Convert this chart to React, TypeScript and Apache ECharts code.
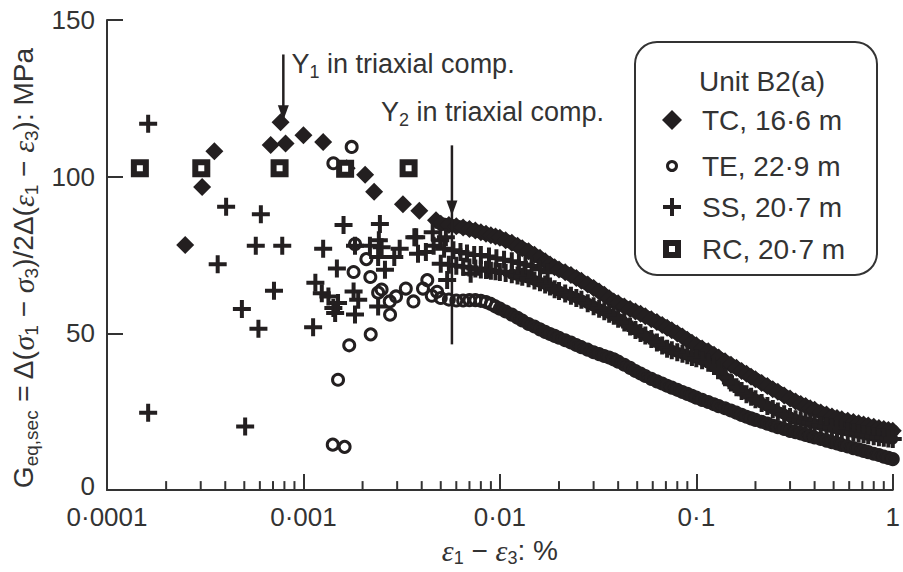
import React, { useEffect, useRef } from "react";
import * as echarts from "echarts";

// ---------- data ----------
const xTickLabels = ["0·0001", "0·001", "0·01", "0·1", "1"];
const minorTickStrains = [
  2e-4, 3e-4, 4e-4, 5e-4, 6e-4, 7e-4, 8e-4, 9e-4,
  2e-3, 3e-3, 4e-3, 5e-3, 6e-3, 7e-3, 8e-3, 9e-3,
  0.02, 0.03, 0.04, 0.05, 0.06, 0.07, 0.08, 0.09,
  0.2, 0.3, 0.4, 0.5, 0.6, 0.7, 0.8, 0.9,
];

const legendTitle = "Unit B2(a)";
const legendNames = ["TC, 16·6 m", "TE, 22·9 m", "SS, 20·7 m", "RC, 20·7 m"];

// sparse (small-strain) points
const tcSparse: number[][] = [
  [0.00025, 78.2], [0.000305, 96.7], [0.000352, 108.1], [0.000681, 110.1],
  [0.000765, 117.4], [0.000811, 110.6], [0.001, 113.2], [0.00126, 111.1],
  [0.00166, 102.7], [0.00206, 100.6], [0.00229, 95.2], [0.00321, 91.2],
  [0.00389, 89.1], [0.00473, 86.1],
];
const teSparse: number[][] = [
  [0.00142, 104.3], [0.00176, 109.5], [0.00183, 78.5], [0.0018, 69.6],
  [0.0022, 49.7], [0.00171, 46.2], [0.0015, 35.2], [0.00141, 14.5],
  [0.00162, 13.8], [0.00275, 60.2], [0.0025, 64], [0.00209, 73.7],
  [0.00219, 68], [0.0024, 63], [0.00276, 56], [0.00296, 61.8],
  [0.00332, 64.3], [0.00363, 60.2], [0.00406, 64.3], [0.00427, 67],
  [0.00479, 63.3], [0.0045, 62],
];
const ssSparse: number[][] = [
  [0.000162, 116.9], [0.000404, 90.4], [0.000607, 88], [0.000572, 78],
  [0.00078, 78], [0.00126, 77], [0.000366, 72.1], [0.000708, 63.6],
  [0.000486, 57.8], [0.00059, 51.5], [0.00115, 66.2], [0.00112, 52],
  [0.00148, 70.7], [0.000162, 24.7], [0.000505, 20.3], [0.00142, 58.1],
  [0.00124, 62.8], [0.0018, 63.4], [0.0019, 60.7], [0.0024, 58.6],
  [0.0016, 84.6], [0.00245, 84.9], [0.00183, 78], [0.00218, 78],
  [0.0025, 77.5], [0.00309, 77], [0.00375, 80.7], [0.00455, 82.3],
  [0.00531, 80.7], [0.00242, 79.7], [0.00367, 80.7], [0.00383, 75.4],
  [0.00497, 79.7], [0.00539, 67], [0.0029, 74.4], [0.0071, 69],
  [0.0086, 70.3], [0.0026, 70.3], [0.0024, 74.4], [0.00145, 56.5],
  [0.00183, 56], [0.0015, 59.7], [0.00134, 61.8],
  // upper loop of the SS trace just after yield
  [0.0042, 76], [0.0046, 78], [0.0052, 77], [0.0058, 76.5], [0.0063, 76],
  [0.0068, 75.5], [0.0074, 75], [0.008, 75], [0.0088, 74.5], [0.0096, 74],
  [0.0105, 73.5], [0.0115, 73], [0.0125, 72.5], [0.0135, 72], [0.0145, 71.5],
  [0.016, 70.5], [0.0175, 69.5],
];
const rcStrain = [0.000147, 0.000302, 0.000756, 0.00163, 0.00343];
const rcG = [102.7, 102.7, 102.7, 102.5, 102.7];

// dense (large-strain) bands
const bandStrain = [
  0.005, 0.0055, 0.006, 0.0065, 0.007, 0.0075, 0.008, 0.0085, 0.009, 0.0095,
  0.01, 0.0107, 0.0115, 0.0123, 0.013, 0.014, 0.015, 0.016, 0.017, 0.018,
  0.019, 0.02, 0.0215, 0.023, 0.0245, 0.026, 0.028, 0.03, 0.032, 0.034,
  0.036, 0.038, 0.04, 0.043, 0.046, 0.049, 0.052, 0.055, 0.059, 0.063,
  0.067, 0.071, 0.075, 0.08, 0.085, 0.09, 0.095, 0.1, 0.107, 0.115,
  0.123, 0.13, 0.14, 0.15, 0.16, 0.17, 0.18, 0.19, 0.2, 0.215,
  0.23, 0.245, 0.26, 0.28, 0.3, 0.32, 0.34, 0.36, 0.38, 0.4,
  0.43, 0.46, 0.49, 0.52, 0.55, 0.59, 0.63, 0.67, 0.71, 0.75,
  0.8, 0.85, 0.9, 0.95, 1.0,
];
const tcBandG = [
  85, 84.6, 84.2, 83.8, 83.3, 82.8, 82.3, 81.8, 81.3, 80.9,
  80.5, 79.7, 78.9, 78, 77.2, 76.2, 75.1, 74.1, 73, 72,
  71.1, 70.4, 69.5, 68.6, 67.7, 66.8, 65.6, 64.5, 63.4, 62.3,
  61.2, 60.2, 59.6, 58.6, 57.8, 57, 56.3, 55.5, 54.5, 53.6,
  52.7, 51.8, 51, 50, 49, 48, 47, 46.2, 45.2, 44.3,
  43.2, 42.3, 41.1, 40, 39, 38, 37.1, 36.2, 35.4, 34.2,
  33.2, 32.2, 31.4, 30.2, 29.2, 28.3, 27.5, 26.8, 26.1, 25.6,
  24.8, 24.1, 23.5, 23, 22.6, 22.1, 21.7, 21.3, 20.9, 20.6,
  20.2, 19.8, 19.5, 19.2, 18.9,
];
const ssBandG = [
  72.2, 71.9, 71.6, 71.3, 71, 70.7, 70.4, 70.2, 70, 69.8,
  69.6, 69.3, 68.9, 68.5, 68.1, 67.6, 66.9, 66.3, 65.6, 65,
  64.1, 63.5, 62.7, 62, 61.3, 60.7, 59.6, 58.7, 57.9, 57.1,
  56.3, 55.6, 54.7, 53.5, 52.2, 51.1, 50.1, 49.3, 48.2, 47.1,
  46.1, 45.1, 44.6, 44, 43.5, 43, 42.5, 42.1, 41.4, 40.6,
  39.6, 38.3, 36, 34.3, 32.8, 31.6, 30.6, 29.8, 29, 27.8,
  26.8, 25.9, 25.1, 24.2, 23.3, 22.6, 22.2, 21.8, 21.5, 21.2,
  20.7, 20.3, 19.9, 19.5, 19.2, 18.8, 18.4, 18.1, 17.8, 17.5,
  17.2, 16.9, 16.7, 16.5, 16.3,
];
const teBandG = [
  61.3, 60.8, 60.5, 60.5, 60.6, 60.6, 60.4, 60, 59.4, 58.6,
  57.9, 57, 56, 55, 54.1, 53, 52.2, 51.3, 50.5, 49.8,
  49.2, 48.6, 47.8, 47.1, 46.3, 45.6, 44.8, 44, 43.4, 42.8,
  42.3, 41.7, 41, 40, 39, 38, 37.2, 36.4, 35.5, 34.7,
  34, 33.3, 32.7, 32, 31.3, 30.7, 30.1, 29.5, 28.8, 28.1,
  27.4, 26.8, 26.1, 25.4, 24.7, 24, 23.4, 22.9, 22.4, 21.8,
  21.2, 20.6, 20.1, 19.5, 18.9, 18.5, 18.1, 17.6, 17.2, 16.8,
  16.3, 15.8, 15.3, 14.9, 14.4, 13.9, 13.4, 13, 12.5, 12.1,
  11.6, 11.2, 10.7, 10.3, 9.9,
];
// index in bandStrain from which each band is a continuous solid trace
const tcSolidFrom = 0;
const ssSolidFrom = 12;
const teSolidFrom = 10;

// annotations: strain, top, arrow tip, bottom, label strain, label G
const annotStrain = [0.00079, 0.0057];
const annotTop = [139, 110];
const annotTip = [118, 87.6];
const annotBottom = [118, 46.5];
const annotLabelStrain = [0.00087, 0.00248];
const annotLabelG = [136, 120.7];
const annotSub = ["1", "2"];

// ---------- styles ----------
const INK = "#231f20";
const TXT = "#333";
const SANS = "'Liberation Sans', Arial, Helvetica, sans-serif";
const SERIF = "'Liberation Serif', 'Times New Roman', serif";
const PLUS = "path://M7,0h4v7h7v4h-7v7h-4v-7h-7v-4h7z";

const zip = (xs: number[], ys: number[]) => xs.map((x, i) => [x, ys[i]]);

export default function App() {
  const ref = useRef<HTMLDivElement>(null);
  useEffect(() => {
    if (!ref.current) return;
    const chart = echarts.init(ref.current, null, { renderer: "svg" });

    const tcBand = zip(bandStrain, tcBandG);
    const ssBand = zip(bandStrain, ssBandG);
    const teBand = zip(bandStrain, teBandG);
    const tcData = tcSparse.concat(tcBand);
    const ssData = ssSparse.concat(ssBand);
    const teData = teSparse.concat(teBand);
    const rcData = zip(rcStrain, rcG);
    const annotData = annotStrain.map((s, i) => [
      s, annotTop[i], annotTip[i], annotBottom[i], annotLabelStrain[i], annotLabelG[i],
    ]);

    const legendRowY = [120, 166, 207, 249];
    const symX = 672;
    const legendGraphics: any[] = [
      {
        type: "rect",
        shape: { x: 635, y: 42, width: 242, height: 233, r: 22 },
        style: { fill: "#fff", stroke: TXT, lineWidth: 2 },
        z: 10,
      },
      {
        type: "text",
        x: 762,
        y: 81,
        z: 11,
        style: {
          text: legendTitle, fill: TXT, fontSize: 28, fontFamily: SANS,
          align: "center", verticalAlign: "middle", textAlign: "center", textVerticalAlign: "middle",
        },
      },
      {
        type: "polygon", z: 11,
        shape: { points: [[symX, legendRowY[0] - 10], [symX + 10, legendRowY[0]], [symX, legendRowY[0] + 10], [symX - 10, legendRowY[0]]] },
        style: { fill: INK },
      },
      {
        type: "circle", z: 11,
        shape: { cx: symX, cy: legendRowY[1], r: 4.5 },
        style: { fill: "#fff", stroke: INK, lineWidth: 3 },
      },
      {
        type: "polygon", z: 11,
        shape: {
          points: [
            [symX - 2, legendRowY[2] - 9], [symX + 2, legendRowY[2] - 9], [symX + 2, legendRowY[2] - 2],
            [symX + 9, legendRowY[2] - 2], [symX + 9, legendRowY[2] + 2], [symX + 2, legendRowY[2] + 2],
            [symX + 2, legendRowY[2] + 9], [symX - 2, legendRowY[2] + 9], [symX - 2, legendRowY[2] + 2],
            [symX - 9, legendRowY[2] + 2], [symX - 9, legendRowY[2] - 2], [symX - 2, legendRowY[2] - 2],
          ],
        },
        style: { fill: INK },
      },
      {
        type: "rect", z: 11,
        shape: { x: symX - 6, y: legendRowY[3] - 6, width: 12, height: 12 },
        style: { fill: "#fff", stroke: INK, lineWidth: 6 },
      },
    ];
    legendNames.forEach((name, i) => {
      legendGraphics.push({
        type: "text", z: 11, x: 702, y: legendRowY[i],
        style: {
          text: name, fill: TXT, fontSize: 28, fontFamily: SANS,
          align: "left", verticalAlign: "middle", textAlign: "left", textVerticalAlign: "middle",
        },
      });
    });

    const solidLine = (data: number[][], width: number) => ({
      type: "line",
      data,
      showSymbol: false,
      symbol: "none",
      silent: true,
      z: 2,
      lineStyle: { color: INK, width, cap: "round", join: "round" },
    });

    const option: any = {
      animation: false,
      backgroundColor: "#fff",
      grid: { left: 107, right: 4, top: 20, bottom: 76, containLabel: false },
      xAxis: {
        type: "log",
        logBase: 10,
        min: 0.0001,
        max: 1,
        splitLine: { show: false },
        minorTick: { show: false },
        axisLine: { show: true, lineStyle: { color: TXT, width: 2 } },
        axisTick: { show: true, inside: true, length: 16, lineStyle: { color: TXT, width: 2 } },
        axisLabel: {
          fontSize: 26, lineHeight: 22, color: TXT, fontFamily: SANS, margin: 16,
          formatter: (v: number) => xTickLabels[Math.round(Math.log10(v)) + 4] ?? "",
        },
        name: "{e|ε}{s|1}{t| − }{e|ε}{s|3}{t|: %}",
        nameLocation: "middle",
        nameGap: 40,
        nameTextStyle: {
          rich: {
            e: { fontFamily: SERIF, fontStyle: "italic", fontSize: 30, color: TXT, lineHeight: 34 },
            t: { fontFamily: SANS, fontSize: 28, color: TXT, lineHeight: 34 },
            s: { fontFamily: SANS, fontSize: 18, color: TXT, lineHeight: 14, verticalAlign: "bottom" },
          },
        },
      },
      yAxis: {
        type: "value",
        min: 0,
        max: 150,
        interval: 50,
        splitLine: { show: false },
        axisLine: { show: true, lineStyle: { color: TXT, width: 2 } },
        axisTick: { show: true, inside: true, length: 16, lineStyle: { color: TXT, width: 2 } },
        axisLabel: {
          fontSize: 26, lineHeight: 22, color: TXT, fontFamily: SANS, margin: 12,
          formatter: (v: number) => (v === 0 ? "{z|0}" : String(v)),
          rich: {
            z: { fontSize: 26, lineHeight: 22, color: TXT, fontFamily: SANS, padding: [0, 0, 9, 0] },
          },
        },
        name:
          "{t|G}{s|eq,sec}{t| = Δ(}{e|σ}{s|1}{t| − }{e|σ}{s|3}{t|)/2Δ(}{e|ε}{s|1}{t| − }{e|ε}{s|3}{t|): MPa}",
        nameLocation: "middle",
        nameRotate: 90,
        nameGap: 60,
        nameTextStyle: {
          padding: [0, 26, 0, 0],
          rich: {
            e: { fontFamily: SERIF, fontStyle: "italic", fontSize: 30, color: TXT, lineHeight: 34 },
            t: { fontFamily: SANS, fontSize: 28, color: TXT, lineHeight: 34 },
            s: { fontFamily: SANS, fontSize: 19, color: TXT, lineHeight: 14, verticalAlign: "bottom" },
          },
        },
      },
      graphic: legendGraphics,
      series: [
        solidLine(tcBand.slice(tcSolidFrom), 13),
        solidLine(ssBand.slice(ssSolidFrom), 11),
        solidLine(teBand.slice(teSolidFrom), 11),
        {
          name: legendNames[0], type: "scatter", symbol: "diamond", symbolSize: 18,
          itemStyle: { color: INK, opacity: 1 }, data: tcData, z: 3,
        },
        {
          name: legendNames[2], type: "scatter", symbol: PLUS, symbolSize: 18,
          itemStyle: { color: INK, opacity: 1 }, data: ssData, z: 3,
        },
        {
          name: legendNames[1], type: "scatter", symbol: "circle", symbolSize: 11,
          itemStyle: { color: "rgba(255,255,255,0)", borderColor: INK, borderWidth: 3, opacity: 1 },
          data: teData, z: 3,
        },
        {
          name: legendNames[3], type: "scatter", symbol: "rect", symbolSize: 12,
          itemStyle: { color: "#fff", borderColor: INK, borderWidth: 6, opacity: 1 },
          data: rcData, z: 4,
        },
        {
          type: "custom", z: 2, silent: true,
          data: minorTickStrains.map((s) => [s, 0]),
          renderItem: (_p: any, api: any) => {
            const p = api.coord([api.value(0), 0]);
            return {
              type: "line",
              shape: { x1: p[0], y1: p[1], x2: p[0], y2: p[1] - 9 },
              style: { stroke: TXT, lineWidth: 2 },
            };
          },
        },
        {
          type: "custom", z: 5, silent: true,
          data: annotData,
          renderItem: (params: any, api: any) => {
            const top = api.coord([api.value(0), api.value(1)]);
            const tip = api.coord([api.value(0), api.value(2)]);
            const bot = api.coord([api.value(0), api.value(3)]);
            const lab = api.coord([api.value(4), api.value(5)]);
            const x = top[0];
            return {
              type: "group",
              children: [
                {
                  type: "line",
                  shape: { x1: x, y1: top[1], x2: x, y2: Math.max(bot[1], tip[1] - 6) },
                  style: { stroke: INK, lineWidth: 2.5 },
                },
                {
                  type: "polygon",
                  shape: { points: [[x, tip[1]], [x - 5.5, tip[1] - 15], [x + 5.5, tip[1] - 15]] },
                  style: { fill: INK },
                },
                {
                  type: "text",
                  x: lab[0],
                  y: lab[1],
                  style: {
                    text: "{a|Y}{s|" + annotSub[params.dataIndex] + "}{a| in triaxial comp.}",
                    align: "left",
                    verticalAlign: "middle",
                    rich: {
                      a: { fill: TXT, fontSize: 27, fontFamily: SANS, lineHeight: 34 },
                      s: { fill: TXT, fontSize: 18, fontFamily: SANS, lineHeight: 14, verticalAlign: "bottom" },
                    },
                  },
                },
              ],
            };
          },
        },
      ],
    };
    chart.setOption(option);
    return () => chart.dispose();
  }, []);
  return (
    <div
      ref={ref}
      style={{ position: "absolute", left: 0, top: 0, width: 903, height: 572, background: "#fff" }}
    />
  );
}
